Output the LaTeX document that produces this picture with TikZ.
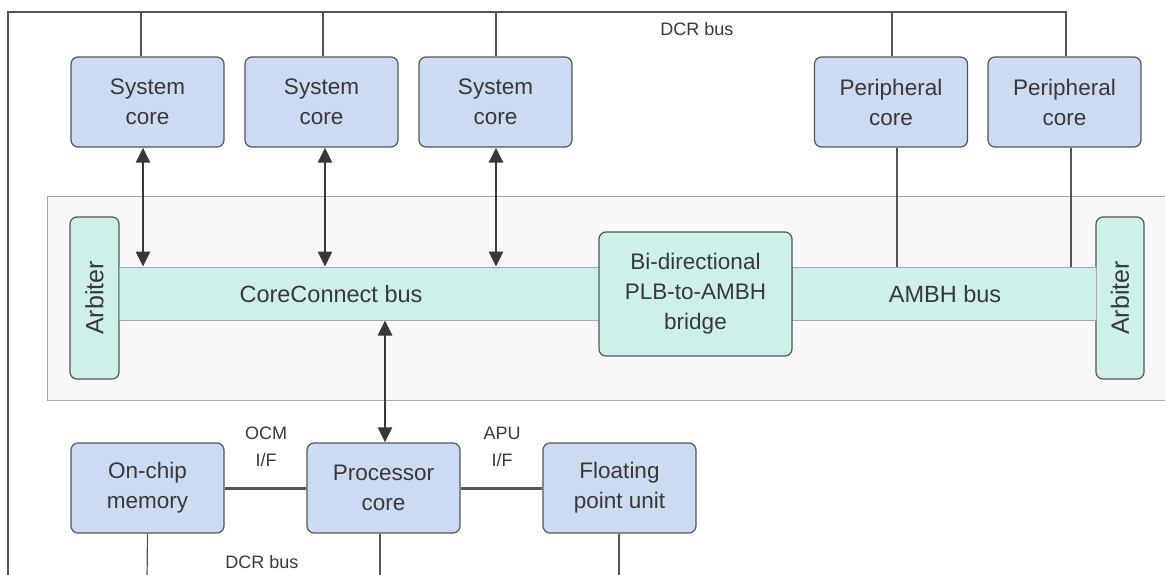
\documentclass[tikz,border=0pt]{standalone}
\usepackage{fontspec}
\setmainfont{Liberation Sans}
\usetikzlibrary{arrows.meta}
\definecolor{boxblue}{HTML}{CCDAF2}
\definecolor{boxteal}{HTML}{CDF1EA}
\definecolor{panelfill}{HTML}{F8F8F8}
\definecolor{panelline}{HTML}{A8A8A8}
\definecolor{edge}{HTML}{555555}
\definecolor{ink}{HTML}{383838}
\tikzset{
  corebox/.style={draw=edge, line width=1.2pt, rounded corners=7pt, fill=boxblue,
    minimum width=153pt, minimum height=90pt, inner sep=0pt, align=center,
    text=ink, font=\fontsize{22.5}{30}\selectfont},
  tealbox/.style={draw=edge, line width=1.2pt, rounded corners=7pt, fill=boxteal,
    inner sep=0pt, align=center, text=ink, font=\fontsize{22.5}{30}\selectfont},
  busband/.style={draw=panelline, line width=1pt, fill=boxteal, inner sep=0pt},
  lbl/.style={text=ink, font=\fontsize{18}{27}\selectfont, align=center, inner sep=0pt},
  dcr/.style={draw=edge, line width=1.2pt},
  biarrow/.style={draw=ink, line width=2.6pt, {Triangle[length=15pt,width=14pt]}-{Triangle[length=15pt,width=14pt]}},
  thickline/.style={draw=edge, line width=2.2pt},
  ifline/.style={draw=edge, line width=3pt},
}
\begin{document}
\begin{tikzpicture}[x=1pt,y=-1pt]
\useasboundingbox (0,0) rectangle (1165,574);
\clip (0,0) rectangle (1165,574);
% grey panel
\path[fill=panelfill] (47,196) rectangle (1170,400);
\draw[panelline, line width=1pt] (1170,196) -- (47,196) -- (47,400) -- (1170,400);

% top cores
\node[corebox] (sc1) at (147.5,102) {System\\core};
\node[corebox] (sc2) at (321.5,102) {System\\core};
\node[corebox] (sc3) at (495.5,102) {System\\core};
\node[corebox] (pc1) at (891,102) {Peripheral\\core};
\node[corebox] (pc2) at (1064.5,102) {Peripheral\\core};

% DCR bus top
\coordinate (ctl) at (8,12);
\coordinate (cbl) at (8,580);
\draw[dcr] (cbl) -- (ctl) -| ([xshift=1.5pt]pc2.north);
\draw[dcr] ([xshift=-6.5pt]sc1.north) -- ([xshift=-6.5pt]sc1.north |- ctl);
\draw[dcr] ([xshift=1.5pt]sc2.north) -- ([xshift=1.5pt]sc2.north |- ctl);
\draw[dcr] ([xshift=0.5pt]sc3.north) -- ([xshift=0.5pt]sc3.north |- ctl);
\draw[dcr] ([xshift=1pt]pc1.north) -- ([xshift=1pt]pc1.north |- ctl);
\node[lbl] (dcrtop) at (697,29) {DCR bus};

% buses
\node[tealbox, rotate=90, minimum width=162pt, minimum height=49pt, font=\fontsize{25}{30}\selectfont] (arbl) at (94.5,298) {Arbiter};
\node[tealbox, rotate=90, minimum width=162pt, minimum height=48pt, font=\fontsize{25}{30}\selectfont] (arbr) at (1120,298) {Arbiter};
\node[busband, minimum width=480pt, minimum height=53pt] (ccbus) at (359,293.5) {};
\node[busband, minimum width=304pt, minimum height=53pt] (ambus) at (944,293.5) {};
\node[tealbox, minimum width=193pt, minimum height=124pt] (bridge) at (695.5,294) {Bi-directional\\PLB-to-AMBH\\bridge};
\node[tealbox, draw=none, fill=none, font=\fontsize{23.5}{30}\selectfont] (ccl) at (331,294) {CoreConnect bus};
\node[tealbox, draw=none, fill=none, font=\fontsize{23.5}{30}\selectfont] (aml) at (945,294) {AMBH bus};

% arrows from system cores
\draw[biarrow] ([xshift=-4.5pt]sc1.south) -- ([xshift=-4.5pt]sc1.south |- ccbus.north);
\draw[biarrow] ([xshift=3.5pt]sc2.south) -- ([xshift=3.5pt]sc2.south |- ccbus.north);
\draw[biarrow] ([xshift=0.5pt]sc3.south) -- ([xshift=0.5pt]sc3.south |- ccbus.north);
% peripheral lines
\draw[thickline] ([xshift=6pt]pc1.south) -- ([xshift=6pt]pc1.south |- ambus.north);
\draw[thickline] ([xshift=6.5pt]pc2.south) -- ([xshift=6.5pt]pc2.south |- ambus.north);

% bottom
\node[corebox] (mem) at (147.5,488) {On-chip\\memory};
\node[corebox] (proc) at (383.5,488) {Processor\\core};
\node[corebox] (fpu) at (619.5,488) {Floating\\point unit};
\draw[biarrow] ([xshift=1.5pt]proc.north) -- ([xshift=1.5pt]proc.north |- ccbus.south);
\draw[ifline] (mem.east) -- (proc.west);
\draw[ifline] (proc.east) -- (fpu.west);
\node[lbl] (ocm) at (266,447) {OCM\\I/F};
\node[lbl] (apu) at (502,447) {APU\\I/F};
\coordinate (b1) at (147,580);
\coordinate (b2) at (380,580);
\coordinate (b3) at (619,580);
\draw[dcr] (mem.south) -- (b1);
\draw[dcr] ([xshift=-3.5pt]proc.south) -- (b2);
\draw[dcr] ([xshift=-0.5pt]fpu.south) -- (b3);
\node[lbl] (dcrbot) at (262,562) {DCR bus};
\end{tikzpicture}
\end{document}
